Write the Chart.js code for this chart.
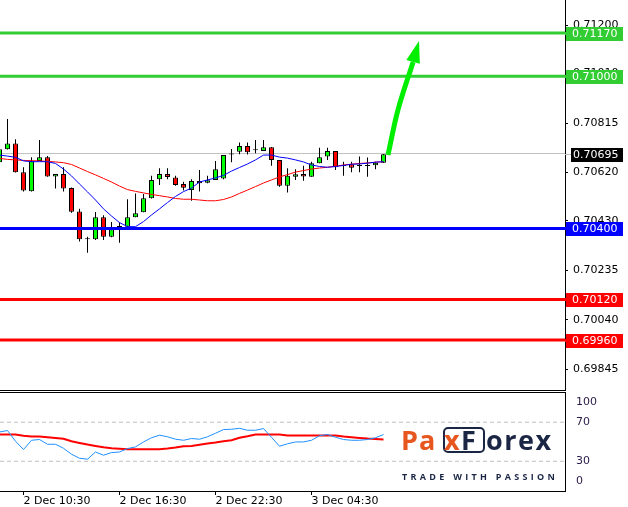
<!DOCTYPE html>
<html>
<head>
<meta charset="utf-8">
<script src="https://cdn.jsdelivr.net/npm/chart.js@4.4.0/dist/chart.umd.min.js"></script>
<style>
  html, body { margin: 0; padding: 0; background: #fff; }
  #wrap { position: relative; width: 628px; height: 507px; overflow: hidden; }
  #priceChart { position: absolute; left: 0; top: 0; }
  #oscChart { position: absolute; left: 0; top: 388px; }
  .logo span { position: absolute; font-family: "Open Sans", sans-serif; font-weight: 700; font-size: 27px; line-height: 27px; white-space: nowrap; }
  .logo .orange { color: #e8561f; }
  .logo .navy { color: #1b2645; }
  .logo .badge { position: absolute; left: 443px; top: 427px; width: 38px; height: 22px; border: 2px solid #1b2645; border-radius: 5px; }
  .logo .tagline { font-size: 9px; line-height: 9px; font-weight: 700; letter-spacing: 3.3px; color: #1b2645; }
</style>
</head>
<body>
<div id="wrap">
  <canvas id="priceChart" width="628" height="391"></canvas>
  <canvas id="oscChart" width="628" height="119"></canvas>
  <div class="logo">
    <div class="badge"></div>
    <span class="orange" style="left:401px; top:426px; letter-spacing:1px;">Pa</span>
    <span class="orange" style="left:444px; top:426px;">x</span>
    <span class="navy" style="left:461px; top:426px;">F</span>
    <span class="navy" style="left:486px; top:426px; letter-spacing:1.5px;">orex</span>
    <span class="tagline" style="left:402px; top:472px;">TRADE WITH PASSION</span>
  </div>
</div>
<script>
// EURUSD-style M30 chart with support/resistance levels and an oscillator
(function() {
  'use strict';

  // ---- data (one entry per 30 min bar, bar 0 is just off the left edge) ----
  var opens = [0.70661, 0.70712, 0.70735, 0.70621, 0.70546, 0.70666, 0.70680, 0.70605, 0.70614, 0.70559,
    0.70467, 0.70357, 0.70357, 0.70444, 0.70367, 0.70397, 0.70407, 0.70444, 0.70464, 0.70519,
    0.70594, 0.70614, 0.70601, 0.70575, 0.70551, 0.70587, 0.70580, 0.70591, 0.70597, 0.70691,
    0.70702, 0.70725, 0.70709, 0.70705, 0.70720, 0.70670, 0.70568, 0.70604, 0.70614, 0.70604,
    0.70657, 0.70683, 0.70705, 0.70646, 0.70653, 0.70646, 0.70646, 0.70649, 0.70659];
  var highs = [0.70717, 0.70831, 0.70751, 0.70641, 0.70680, 0.70748, 0.70685, 0.70614, 0.70641, 0.70561,
    0.70478, 0.70367, 0.70465, 0.70452, 0.70425, 0.70423, 0.70515, 0.70538, 0.70536, 0.70608,
    0.70637, 0.70637, 0.70608, 0.70584, 0.70594, 0.70630, 0.70608, 0.70666, 0.70689, 0.70713,
    0.70739, 0.70739, 0.70748, 0.70748, 0.70721, 0.70670, 0.70637, 0.70633, 0.70647, 0.70663,
    0.70718, 0.70718, 0.70705, 0.70663, 0.70663, 0.70683, 0.70679, 0.70663, 0.70693];
  var lows = [0.70658, 0.70711, 0.70620, 0.70545, 0.70545, 0.70666, 0.70604, 0.70557, 0.70545, 0.70462,
    0.70348, 0.70304, 0.70354, 0.70354, 0.70365, 0.70344, 0.70406, 0.70444, 0.70464, 0.70518,
    0.70571, 0.70594, 0.70568, 0.70549, 0.70509, 0.70545, 0.70578, 0.70591, 0.70594, 0.70661,
    0.70692, 0.70691, 0.70696, 0.70705, 0.70647, 0.70564, 0.70542, 0.70591, 0.70588, 0.70604,
    0.70657, 0.70670, 0.70630, 0.70608, 0.70621, 0.70621, 0.70604, 0.70633, 0.70658];
  var closes = [0.70712, 0.70735, 0.70621, 0.70549, 0.70666, 0.70680, 0.70605, 0.70614, 0.70557, 0.70466,
    0.70357, 0.70357, 0.70444, 0.70367, 0.70397, 0.70410, 0.70444, 0.70460, 0.70519, 0.70591,
    0.70614, 0.70603, 0.70571, 0.70560, 0.70587, 0.70578, 0.70590, 0.70633, 0.70689, 0.70693,
    0.70725, 0.70700, 0.70708, 0.70720, 0.70670, 0.70568, 0.70608, 0.70613, 0.70605, 0.70657,
    0.70680, 0.70705, 0.70641, 0.70646, 0.70639, 0.70646, 0.70650, 0.70659, 0.70692];

  var maFast = [0.70689, 0.70685, 0.70680, 0.70666, 0.70663, 0.70663, 0.70663, 0.70656, 0.70634, 0.70607,
    0.70575, 0.70544, 0.70512, 0.70477, 0.70449, 0.70423, 0.70407, 0.70407, 0.70427, 0.70453,
    0.70477, 0.70502, 0.70526, 0.70545, 0.70559, 0.70583, 0.70591, 0.70599, 0.70609, 0.70626,
    0.70640, 0.70654, 0.70670, 0.70689, 0.70689, 0.70681, 0.70677, 0.70670, 0.70662, 0.70650,
    0.70644, 0.70641, 0.70644, 0.70648, 0.70653, 0.70654, 0.70657, 0.70661, 0.70663];
  var maSlow = [0.70676, 0.70672, 0.70670, 0.70668, 0.70667, 0.70666, 0.70664, 0.70662, 0.70659, 0.70652,
    0.70638, 0.70624, 0.70611, 0.70597, 0.70583, 0.70567, 0.70553, 0.70546, 0.70540, 0.70534,
    0.70529, 0.70524, 0.70518, 0.70515, 0.70515, 0.70512, 0.70509, 0.70509, 0.70514, 0.70524,
    0.70538, 0.70551, 0.70565, 0.70579, 0.70591, 0.70603, 0.70612, 0.70622, 0.70628, 0.70634,
    0.70638, 0.70641, 0.70645, 0.70650, 0.70653, 0.70656, 0.70658, 0.70661, 0.70663];

  var oscMain = [60.0, 61.5, 50.5, 42.0, 51.5, 52.3, 47.4, 47.4, 43.3, 37.2,
    33.1, 32.1, 39.5, 36.2, 38.9, 39.5, 43.0, 44.7, 49.8, 54.1,
    56.7, 55.1, 52.6, 51.5, 53.3, 52.6, 55.1, 58.7, 62.5, 62.8,
    63.8, 61.8, 61.8, 63.5, 54.6, 45.4, 47.9, 49.8, 49.8, 51.5,
    56.2, 57.4, 54.6, 52.3, 51.5, 51.5, 52.3, 54.1, 57.4];
  var oscSignal = [57.4, 57.4, 57.4, 56.2, 55.3, 55.3, 54.6, 53.9, 53.1, 50.5,
    48.8, 47.1, 45.7, 44.4, 43.3, 42.8, 42.3, 42.3, 42.3, 42.3,
    42.3, 43.0, 44.1, 45.4, 45.7, 46.9, 48.2, 49.2, 50.5, 51.5,
    54.1, 55.6, 57.4, 57.4, 57.4, 57.4, 56.4, 56.4, 56.4, 56.4,
    56.4, 56.4, 56.4, 55.3, 54.6, 53.9, 53.3, 52.9, 52.3];

  var levelValues = [0.71170, 0.71000, 0.70400, 0.70120, 0.69960];
  var bidPrice = 0.70695;
  var priceTicks = [0.71200, 0.71010, 0.70815, 0.70620, 0.70430, 0.70235, 0.70040, 0.69845];
  var oscTicks = [0, 30, 70, 100];
  var oscLevels = [30, 70];
  var timeLabels = ['2 Dec 10:30', '2 Dec 16:30', '2 Dec 22:30', '3 Dec 04:30'];
  var timeLabelBars = [3, 15, 27, 39];

  // projected move: shaft points, then the arrow tip
  var arrowPath = [{ x: 48.56, y: 0.70689 }, { x: 49.81, y: 0.70867 }, { x: 51.7, y: 0.71056 }];
  var arrowTip = { x: 52.44, y: 0.71138 };

  // ---- styles ----
  var levelColors = ['#32cd32', '#32cd32', '#0000ff', '#ff0000', '#ff0000'];
  var bullColor = '#00ff00';
  var bearColor = '#ff0000';
  var arrowColor = '#00ee00';
  var xMin = 0.0625;
  var xMax = 70.6875;
  var axisWidth = 63;

  Chart.defaults.font.family = '"DejaVu Sans", sans-serif';
  Chart.defaults.font.size = 11;
  Chart.defaults.color = '#000';
  Chart.defaults.animation = false;

  function points(values) {
    return values.map(function(v, i) { return { x: i, y: v }; });
  }

  function flatLine(v) {
    return [{ x: xMin, y: v }, { x: xMax, y: v }];
  }

  // axes should not reserve room for half labels at their ends
  function fitRightAxis(s) {
    s.width = axisWidth;
    s.paddingTop = 0;
    s.paddingBottom = 0;
  }

  // Level boxes on the price axis, panel bottom line, arrow head
  var priceOverlay = {
    id: 'priceOverlay',
    afterDatasetsDraw: function(chart) {
      var ctx = chart.ctx;
      var xs = chart.scales.x;
      var ys = chart.scales.y;
      var last = arrowPath[arrowPath.length - 1];
      var bx = xs.getPixelForValue(last.x);
      var by = ys.getPixelForValue(last.y);
      var tx = xs.getPixelForValue(arrowTip.x);
      var ty = ys.getPixelForValue(arrowTip.y);
      var ang = Math.atan2(ty - by, tx - bx);
      var half = 7;
      ctx.save();
      ctx.fillStyle = arrowColor;
      ctx.beginPath();
      ctx.moveTo(tx, ty);
      ctx.lineTo(bx - half * Math.sin(ang), by + half * Math.cos(ang));
      ctx.lineTo(bx + half * Math.sin(ang), by - half * Math.cos(ang));
      ctx.closePath();
      ctx.fill();
      ctx.restore();
    },
    afterDraw: function(chart) {
      var ctx = chart.ctx;
      var ys = chart.scales.y;
      var left = ys.left;
      var area = chart.chartArea;
      ctx.save();
      ctx.fillStyle = '#000';
      ctx.fillRect(0, area.bottom, area.right + 1, 1);
      ctx.font = '11px "DejaVu Sans"';
      ctx.textBaseline = 'middle';

      var py = Math.round(ys.getPixelForValue(bidPrice));
      ctx.fillStyle = '#c0c0c0';
      ctx.fillRect(left, py, 6, 1);
      ctx.fillStyle = '#000';
      ctx.fillRect(left + 6, py - 6, 52, 14);
      ctx.fillStyle = '#fff';
      ctx.fillText(bidPrice.toFixed(5), left + 8, py + 1);

      levelValues.forEach(function(v, i) {
        var y = Math.round(ys.getPixelForValue(v));
        ctx.fillStyle = levelColors[i];
        ctx.fillRect(left, y - 1, 2, 3);
        ctx.fillRect(left + 1, y - 6, 57, 14);
        ctx.fillStyle = '#fff';
        ctx.fillText(v.toFixed(5), left + 7, y + 1);
      });
      ctx.restore();
    }
  };

  // Oscillator: top panel line, keep the 100 / 0 labels inside the panel
  var oscOverlay = {
    id: 'oscOverlay',
    beforeDraw: function(chart) {
      var items = chart.scales.y.getLabelItems();
      items.forEach(function(it) {
        if (it._moved) return;
        if (it.label === '100') it.options.translation[1] += 9;
        if (it.label === '0') it.options.translation[1] -= 9;
        it._moved = true;
      });
    },
    afterDraw: function(chart) {
      var ctx = chart.ctx;
      var area = chart.chartArea;
      ctx.save();
      ctx.fillStyle = '#000';
      ctx.fillRect(0, area.top, area.right + 1, 1);
      ctx.restore();
    }
  };

  var priceDatasets = [];
  priceDatasets.push({
    type: 'line',
    data: flatLine(bidPrice),
    borderColor: '#c0c0c0',
    borderWidth: 1,
    pointRadius: 0,
    order: 6
  });
  priceDatasets.push({
    type: 'bar',
    data: highs.map(function(h, i) { return { x: i, y: [lows[i], h] }; }),
    backgroundColor: '#000',
    borderWidth: 0,
    barThickness: 1,
    inflateAmount: 0,
    grouped: false,
    order: 5
  });
  priceDatasets.push({
    type: 'bar',
    data: opens.map(function(o, i) { return { x: i, y: [o, closes[i]] }; }),
    backgroundColor: opens.map(function(o, i) {
      return closes[i] > o ? bullColor : (closes[i] < o ? bearColor : '#000');
    }),
    borderColor: '#000',
    borderWidth: 1,
    borderSkipped: false,
    barThickness: 5,
    minBarLength: 1,
    inflateAmount: 0,
    grouped: false,
    order: 4
  });
  priceDatasets.push({
    type: 'line', data: points(maSlow), borderColor: '#ff0000',
    borderWidth: 1, pointRadius: 0, order: 3
  });
  priceDatasets.push({
    type: 'line', data: points(maFast), borderColor: '#0000ff',
    borderWidth: 1, pointRadius: 0, order: 2
  });
  levelValues.forEach(function(v, i) {
    priceDatasets.push({
      type: 'line', data: flatLine(v), borderColor: levelColors[i],
      borderWidth: 3, pointRadius: 0, order: 1
    });
  });
  priceDatasets.push({
    type: 'line', data: arrowPath, borderColor: arrowColor,
    borderWidth: 5, pointRadius: 0, tension: 0.35, order: 0
  });

  new Chart(document.getElementById('priceChart'), {
    type: 'bar',
    data: { datasets: priceDatasets },
    plugins: [priceOverlay],
    options: {
      responsive: false,
      layout: { padding: { left: 0, right: 0, top: 0, bottom: 1 } },
      plugins: { legend: { display: false }, tooltip: { enabled: false } },
      scales: {
        x: { type: 'linear', min: xMin, max: xMax, offset: false, display: false },
        y: {
          type: 'linear',
          position: 'right',
          min: 0.697634,
          max: 0.71300,
          afterFit: fitRightAxis,
          afterBuildTicks: function(s) {
            s.ticks = priceTicks.map(function(v) { return { value: v }; });
          },
          grid: { drawOnChartArea: false, tickLength: 3, color: '#000' },
          border: { color: '#000' },
          ticks: {
            padding: 5,
            callback: function(v) { return Number(v).toFixed(5); }
          }
        }
      }
    }
  });

  var oscDatasets = oscLevels.map(function(v) {
    return {
      data: flatLine(v), borderColor: '#c0c0c0', borderWidth: 1,
      borderDash: [4, 3], pointRadius: 0, order: 3
    };
  });
  oscDatasets.push({ data: points(oscSignal), borderColor: '#ff0000', borderWidth: 2, pointRadius: 0, order: 2 });
  oscDatasets.push({ data: points(oscMain), borderColor: '#1e90ff', borderWidth: 1, pointRadius: 0, order: 1 });

  new Chart(document.getElementById('oscChart'), {
    type: 'line',
    data: { datasets: oscDatasets },
    plugins: [oscOverlay],
    options: {
      responsive: false,
      layout: { padding: { left: 0, right: 0, top: 4, bottom: 0 } },
      plugins: { legend: { display: false }, tooltip: { enabled: false } },
      scales: {
        x: {
          type: 'linear',
          min: xMin,
          max: xMax,
          offset: false,
          afterFit: function(s) {
            s.height = 16;
            s.paddingLeft = 0;
            s.paddingRight = 0;
          },
          afterBuildTicks: function(s) {
            s.ticks = timeLabelBars.map(function(v) { return { value: v }; });
          },
          grid: { drawOnChartArea: false, tickLength: 4, color: '#000' },
          border: { color: '#000' },
          ticks: {
            align: 'start',
            autoSkip: false,
            maxRotation: 0,
            padding: 0,
            callback: function(v, i) { return timeLabels[i]; }
          }
        },
        y: {
          type: 'linear',
          position: 'right',
          min: -0.5,
          max: 101,
          afterFit: fitRightAxis,
          afterBuildTicks: function(s) {
            s.ticks = oscTicks.map(function(v) { return { value: v }; });
          },
          grid: { display: false },
          border: { color: '#000' },
          ticks: { padding: 3, color: '#2a1a4a' }
        }
      }
    }
  });
})();
</script>
</body>
</html>
